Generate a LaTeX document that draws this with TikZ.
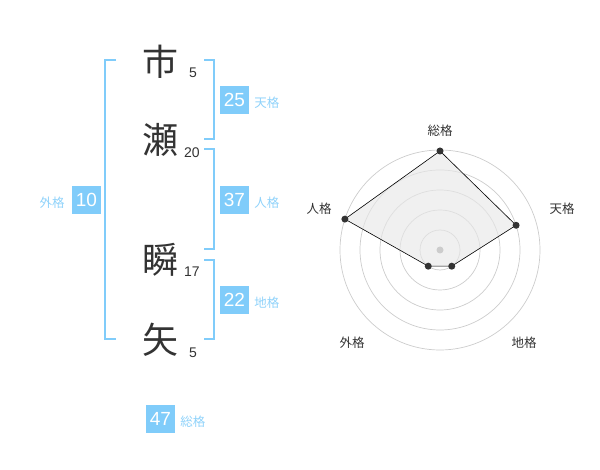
\documentclass[tikz,border=0pt]{standalone}
\usepackage{fontspec}
\setmainfont{Liberation Sans}
\newfontfamily\jpfont{Noto Sans CJK JP}
\usetikzlibrary{positioning}
\definecolor{kakublue}{HTML}{80CCFA}
\definecolor{kakulabel}{HTML}{8FD2FA}
\definecolor{inkgray}{HTML}{333333}
\definecolor{ringgray}{HTML}{CCCCCC}
\definecolor{areagray}{HTML}{E8E8E8}
\tikzset{
  kanji/.style={font=\jpfont\fontsize{36}{36}\selectfont,text=inkgray,inner sep=0pt},
  strokes/.style={font=\fontsize{14}{14}\selectfont,text=inkgray,inner sep=0pt},
  kakubox/.style={fill=kakublue,text=white,font=\fontsize{19}{19}\selectfont,
   minimum width=29pt,minimum height=28pt,inner sep=0pt},
  kakuname/.style={font=\jpfont\fontsize{12.5}{12.5}\selectfont,text=kakulabel,inner sep=0pt},
  bracket/.style={draw=kakublue,line width=2pt},
  ring/.style={draw=ringgray,line width=0.7pt},
  vertex/.style={circle,fill=inkgray,inner sep=0pt,minimum size=7pt},
  axisname/.style={font=\jpfont\fontsize{12.5}{12.5}\selectfont,text=inkgray,inner sep=0pt}
}
\begin{document}
\begin{tikzpicture}[x=1pt,y=-1pt]
  \useasboundingbox (0,0) rectangle (600,470);

  \node [kanji] (c1) at (160,62) {市};
  \node [kanji] (c2) at (160,140) {瀬};
  \node [kanji] (c3) at (160,260) {瞬};
  \node [kanji] (c4) at (160,340) {矢};
  \node [strokes] (s1) at (193,73) {5};
  \node [strokes] (s2) at (192,153) {20};
  \node [strokes] (s3) at (192,272) {17};
  \node [strokes] (s4) at (193,353) {5};

  \draw [bracket] (116,60) -- (105,60) -- (105,339) -- (116,339);
  \foreach \top/\bot in {60/139.3, 149.3/249.3, 260/339}
    \draw [bracket] (204,\top) -- (214.3,\top) -- (214.3,\bot) -- (204,\bot);

  \node [kakubox] (ten) at (234.5,100) {25};
  \node [kakuname,right=5pt of ten,yshift=-3pt] (tenl) {天格};
  \node [kakubox] (jin) at (234.5,200) {37};
  \node [kakuname,right=5pt of jin,yshift=-3pt] (jinl) {人格};
  \node [kakubox] (chi) at (234.5,300) {22};
  \node [kakuname,right=5pt of chi,yshift=-3pt] (chil) {地格};
  \node [kakubox] (gai) at (86.5,200) {10};
  \node [kakuname,left=7pt of gai,yshift=-3pt] (gail) {外格};
  \node [kakubox] (sou) at (160.5,419) {47};
  \node [kakuname,right=5pt of sou,yshift=-3pt] (soul) {総格};

  \begin{scope}[shift={(440,250)},y=1pt]
    \foreach \r in {20,40,60,80,100}
      \draw [ring] (0,0) circle (\r);
    \coordinate (p1) at (90:99);
    \coordinate (p2) at (18:80);
    \coordinate (p3) at (-54:20);
    \coordinate (p4) at (234:20);
    \coordinate (p5) at (162:100);
    \filldraw [fill=areagray,fill opacity=0.65,draw=black,line width=0.6pt]
      (p1) -- (p2) -- (p3) -- (p4) -- (p5) -- cycle;
    \fill [ringgray] (0,0) circle (3.5);
    \foreach \i in {1,...,5}
      \node [vertex] at (p\i) {};
    \node [axisname] (a1) at (0,119) {総格};
    \node [axisname] (a2) at (122,41) {天格};
    \node [axisname] (a3) at (84,-93) {地格};
    \node [axisname] (a4) at (-88,-93) {外格};
    \node [axisname] (a5) at (-121,41) {人格};
  \end{scope}
\end{tikzpicture}
\end{document}
